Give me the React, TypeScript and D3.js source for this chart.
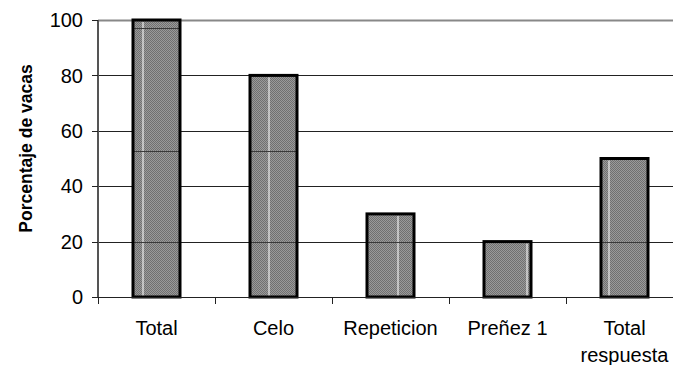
import React from "react";
import * as d3 from "d3";

const categories = ["Total", "Celo", "Repeticion", "Preñez 1", "Total respuesta"];
const values = [100, 80, 30, 20, 50];
const yTicks = [0, 20, 40, 60, 80, 100];
const yTitle = "Porcentaje de vacas";
// faint lines visible through the hatched bars in the reference
const barInnerLines = [20, 52.7, 97.1];

export default function App() {
  const W = 673, H = 365;
  const left = 98, top = 20, bottom = 297;
  const band = 117;
  const x = d3.scaleBand<string>().domain(categories).range([left, left + band * categories.length]).paddingInner(0).paddingOuter(0);
  const y = d3.scaleLinear().domain([0, 100]).range([bottom, top]);
  const bw = 47;
  const whiteOff = [10, 19, 31, 43, 8];
  const font = "Arial, 'Liberation Sans', sans-serif";
  const boundaries = categories.slice(1).map((c) => x(c)!);
  return (
    <svg width={W} height={H} style={{ position: "absolute", left: 0, top: 0, background: "#fff" }}>
      <defs>
        <pattern id="chk" width="2" height="2" patternUnits="userSpaceOnUse">
          <rect width="2" height="2" fill="#9a9a9a" />
          <rect width="1" height="1" fill="#707070" />
          <rect x="1" y="1" width="1" height="1" fill="#707070" />
        </pattern>
      </defs>
      {yTicks.filter((t) => t > 0).map((t) => (
        <line key={t} x1={left} x2={W} y1={Math.round(y(t)) + 0.5} y2={Math.round(y(t)) + 0.5} stroke={t === 100 ? "#888" : "#222"} strokeWidth={t === 100 ? 2 : 1} />
      ))}
      {categories.map((c, i) => {
        const cx = x(c)! + x.bandwidth() / 2;
        const bx = cx - bw / 2;
        const yt = y(values[i]);
        return (
          <g key={c}>
            <rect x={bx} y={yt} width={bw} height={bottom - yt} fill="url(#chk)" />
            <line x1={bx + whiteOff[i]} x2={bx + whiteOff[i]} y1={yt + 2} y2={bottom - 1} stroke="#fff" strokeWidth={1} />
            {barInnerLines.filter((v) => v < values[i] - 1).map((v) => (
              <line key={v} x1={bx} x2={bx + bw} y1={Math.round(y(v)) + 0.5} y2={Math.round(y(v)) + 0.5} stroke="#3a3a3a" strokeWidth={1} />
            ))}
            <rect x={bx} y={yt} width={bw} height={bottom - yt} fill="none" stroke="#000" strokeWidth={3} />
          </g>
        );
      })}
      <line x1={left} x2={left} y1={top} y2={bottom} stroke="#555" strokeWidth={2} />
      <line x1={left} x2={W} y1={bottom + 0.5} y2={bottom + 0.5} stroke="#222" strokeWidth={1} />
      {yTicks.map((t) => (
        <g key={t}>
          <line x1={left - 6} x2={left} y1={Math.round(y(t)) + 0.5} y2={Math.round(y(t)) + 0.5} stroke="#222" />
          <text x={83} y={y(t)} dy="0.36em" textAnchor="end" fontFamily={font} fontSize={20} fill="#000">{t}</text>
        </g>
      ))}
      {[left, ...boundaries].map((bx, i) => (
        <line key={i} x1={Math.round(bx) + 0.5} x2={Math.round(bx) + 0.5} y1={bottom} y2={bottom + 7} stroke="#222" />
      ))}
      {categories.map((c) => {
        const cx = x(c)! + x.bandwidth() / 2;
        const parts = c === "Total respuesta" ? ["Total", "respuesta"] : [c];
        return (
          <text key={c} textAnchor="middle" fontFamily={font} fontSize={20} fill="#000">
            {parts.map((p, j) => (
              <tspan key={j} x={cx} y={335 + j * 27}>{p}</tspan>
            ))}
          </text>
        );
      })}
      <text transform={`translate(32,${(top + bottom) / 2 - 10}) rotate(-90)`} textAnchor="middle" fontFamily={font} fontSize={17.5} fontWeight="bold" fill="#000">{yTitle}</text>
    </svg>
  );
}
